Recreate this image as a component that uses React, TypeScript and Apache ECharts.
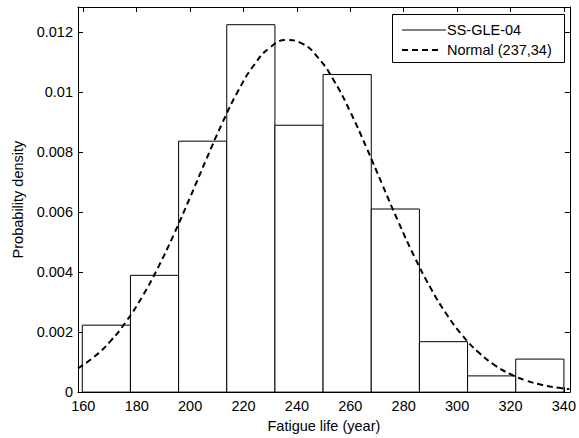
import React, { useEffect, useRef } from "react";
import * as echarts from "echarts";

const binEdges = [159.6, 177.64, 195.68, 213.72, 231.76, 249.8, 267.84, 285.88, 303.92, 321.96, 340.0];
const binHeights = [0.00223, 0.00389, 0.00836, 0.01224, 0.00889, 0.01058, 0.0061, 0.00168, 0.00054, 0.0011];

const curveX = [158, 164, 170, 176, 182, 188, 194, 200, 206, 212, 218, 224, 230, 236, 242, 248, 254, 260, 266, 272, 278, 284, 290, 296, 302, 308, 314, 320, 326, 332, 338, 342];
const curveY = [0.000789, 0.001171, 0.001683, 0.002347, 0.003172, 0.004153, 0.005273, 0.006491, 0.007743, 0.008955, 0.010038, 0.010906, 0.011487, 0.011728, 0.011607, 0.011135, 0.010355, 0.009334, 0.008155, 0.006907, 0.005671, 0.004513, 0.003481, 0.002603, 0.001887, 0.001326, 0.000903, 0.000596, 0.000381, 0.000237, 0.000142, 0.0000996];

const xTicks = [160, 180, 200, 220, 240, 260, 280, 300, 320, 340];
const yTicks = [0, 0.002, 0.004, 0.006, 0.008, 0.01, 0.012];

const seriesNames = ["SS-GLE-04", "Normal (237,34)"];

const FONT = "'Liberation Sans', Arial, sans-serif";
const FS = 14.5;

export default function App() {
  const ref = useRef<HTMLDivElement>(null);
  useEffect(() => {
    if (!ref.current) return;
    const chart = echarts.init(ref.current, null, { renderer: "svg" });
    const histData = binHeights.map((h, i) => [binEdges[i], binEdges[i + 1], h]);
    const curveData = curveX.map((x, i) => [x, curveY[i]]);
    const axisLine = { show: true, onZero: false, lineStyle: { color: "#000", width: 1 } };
    chart.setOption({
      animation: false,
      backgroundColor: "#fff",
      textStyle: { fontFamily: FONT },
      grid: { left: 78, right: 9, top: 7, bottom: 44 },
      xAxis: [
        {
          type: "value",
          min: 158,
          max: 342.2,
          position: "bottom",
          axisLine,
          axisTick: { show: true, inside: true, length: 5, customValues: xTicks, lineStyle: { color: "#000" } },
          axisLabel: { customValues: xTicks, color: "#000", fontSize: FS, fontFamily: FONT, margin: 6 },
          splitLine: { show: false },
          name: "Fatigue life (year)",
          nameLocation: "middle",
          nameGap: 25,
          nameTextStyle: { color: "#000", fontSize: FS, fontFamily: FONT },
        },
        {
          type: "value",
          min: 158,
          max: 342.2,
          position: "top",
          axisLine,
          axisTick: { show: true, inside: true, length: 5, customValues: xTicks, lineStyle: { color: "#000" } },
          axisLabel: { show: false },
          splitLine: { show: false },
        },
      ],
      yAxis: [
        {
          type: "value",
          min: 0,
          max: 0.01283,
          position: "left",
          axisLine,
          axisTick: { show: true, inside: true, length: 5, customValues: yTicks, lineStyle: { color: "#000" } },
          axisLabel: {
            customValues: yTicks,
            color: "#000",
            fontSize: FS,
            fontFamily: FONT,
            margin: 5,
            formatter: (v: number) => String(+v.toFixed(4)),
          },
          splitLine: { show: false },
          name: "Probability density",
          nameLocation: "middle",
          nameGap: 48,
          nameTextStyle: { color: "#000", fontSize: FS, fontFamily: FONT },
        },
        {
          type: "value",
          min: 0,
          max: 0.01283,
          position: "right",
          axisLine,
          axisTick: { show: true, inside: true, length: 5, customValues: yTicks, lineStyle: { color: "#000" } },
          axisLabel: { show: false },
          splitLine: { show: false },
        },
      ],
      series: [
        {
          name: seriesNames[0],
          type: "custom",
          xAxisIndex: 0,
          yAxisIndex: 0,
          data: histData,
          encode: { x: [0, 1], y: 2 },
          renderItem: (params: any, api: any) => {
            const p0 = api.coord([api.value(0), api.value(2)]);
            const p1 = api.coord([api.value(1), 0]);
            return {
              type: "rect",
              shape: { x: p0[0], y: p0[1], width: p1[0] - p0[0], height: p1[1] - p0[1] },
              style: { fill: "#fff", stroke: "#000", lineWidth: 1 },
            };
          },
        },
        {
          name: seriesNames[1],
          type: "line",
          xAxisIndex: 0,
          yAxisIndex: 0,
          data: curveData,
          smooth: true,
          symbol: "none",
          lineStyle: { color: "#000", width: 2, type: [6, 4] },
          z: 5,
        },
      ],
      graphic: [
        {
          type: "rect",
          left: 392,
          top: 14,
          shape: { width: 172, height: 48 },
          style: { fill: "#fff", stroke: "#000", lineWidth: 1 },
          z: 100,
        },
        {
          type: "line",
          shape: { x1: 402, y1: 30, x2: 446, y2: 30 },
          style: { stroke: "#000", lineWidth: 1 },
          z: 101,
        },
        {
          type: "text",
          left: 447,
          top: 22,
          style: { text: seriesNames[0], fill: "#000", fontSize: FS, fontFamily: FONT },
          z: 101,
        },
        {
          type: "line",
          shape: { x1: 402, y1: 50, x2: 442, y2: 50 },
          style: { stroke: "#000", lineWidth: 2, lineDash: [6, 4] },
          z: 101,
        },
        {
          type: "text",
          left: 447,
          top: 42,
          style: { text: seriesNames[1], fill: "#000", fontSize: FS, fontFamily: FONT },
          z: 101,
        },
      ],
    });
    return () => chart.dispose();
  }, []);
  return (
    <div
      ref={ref}
      style={{ position: "fixed", left: 0, top: 0, width: 579, height: 438, background: "#fff" }}
    />
  );
}
